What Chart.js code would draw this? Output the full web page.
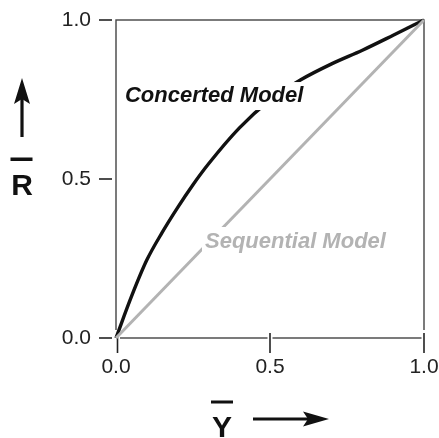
<!DOCTYPE html>
<html>
<head>
<meta charset="utf-8">
<script src="https://cdn.jsdelivr.net/npm/chart.js@4.4.1/dist/chart.umd.min.js"></script>
<style>
  html, body { margin: 0; padding: 0; background: #fff; }
</style>
</head>
<body>
<canvas id="chart" width="439" height="438"></canvas>
<script>
// fractional saturation (Y) vs fraction in R state (R)
const concertedY = [0, 0.05, 0.1, 0.15, 0.2, 0.25, 0.3, 0.4, 0.5, 0.6, 0.7, 0.8, 0.9, 1.0];
const concertedR = [0, 0.13, 0.245, 0.332, 0.41, 0.482, 0.547, 0.66, 0.748, 0.812, 0.862, 0.905, 0.952, 1.0];
const sequentialY = [0, 1.0];
const sequentialR = [0, 1.0];
const tickValues = [0, 0.5, 1.0];
const tickLabels = ['0.0', '0.5', '1.0'];
const seriesNames = ['Concerted Model', 'Sequential Model'];

const FONT = "'Liberation Sans', Arial, Helvetica, sans-serif";
const INK = '#222';
const GREY = '#b3b3b3';

const toPoints = (xs, ys) => xs.map((x, i) => ({ x: x, y: ys[i] }));

// frame, tick marks, labels on the lines, axis titles with arrows
const decorPlugin = {
  id: 'decor',
  beforeDatasetsDraw(chart) {
    const { ctx, chartArea: a, scales } = chart;
    ctx.save();
    ctx.strokeStyle = '#444';
    ctx.lineWidth = 1.4;
    ctx.strokeRect(a.left, a.top, a.right - a.left, a.bottom - a.top);

    ctx.strokeStyle = INK;
    ctx.lineWidth = 1.6;
    // y ticks, outside with a small gap
    tickValues.forEach(v => {
      const py = scales.y.getPixelForValue(v);
      ctx.beginPath();
      ctx.moveTo(a.left - 17, py);
      ctx.lineTo(a.left - 4, py);
      ctx.stroke();
    });
    // x ticks, crossing the axis with a white knockout
    tickValues.forEach(v => {
      const px = scales.x.getPixelForValue(v) + (v === 0 ? 1.5 : 0);
      ctx.strokeStyle = '#fff';
      ctx.lineWidth = 5;
      ctx.beginPath();
      ctx.moveTo(px, a.bottom - 8);
      ctx.lineTo(px, a.bottom + 15);
      ctx.stroke();
      ctx.strokeStyle = INK;
      ctx.lineWidth = 1.6;
      ctx.beginPath();
      ctx.moveTo(px, a.bottom - 5);
      ctx.lineTo(px, a.bottom + 15);
      ctx.stroke();
    });
    ctx.restore();
  },
  afterDatasetsDraw(chart) {
    const { ctx, scales } = chart;
    ctx.save();
    ctx.font = "italic bold 22px " + FONT;
    ctx.textBaseline = 'alphabetic';
    ctx.textAlign = 'left';

    const labelAt = (text, vx, vy, color, padTop, padBottom) => {
      const px = scales.x.getPixelForValue(vx);
      const py = scales.y.getPixelForValue(vy);
      const w = ctx.measureText(text).width;
      ctx.fillStyle = '#fff';
      ctx.fillRect(px - 3, py - padTop, w + 6, padTop + padBottom);
      ctx.fillStyle = color;
      ctx.fillText(text, px, py);
    };
    labelAt(seriesNames[0], 0.029, 0.742, '#111', 20, 8);
    labelAt(seriesNames[1], 0.289, 0.283, GREY, 21, 6);
    ctx.restore();
  },
  afterDraw(chart) {
    const { ctx } = chart;
    ctx.save();
    ctx.fillStyle = '#111';
    ctx.strokeStyle = '#111';

    // R with overbar, arrow pointing up
    ctx.font = "bold 30px " + FONT;
    ctx.textAlign = 'center';
    ctx.textBaseline = 'alphabetic';
    ctx.fillText('R', 22, 195);
    ctx.fillRect(10.5, 157.5, 22, 3.5);

    ctx.lineWidth = 3.2;
    ctx.beginPath();
    ctx.moveTo(22, 137);
    ctx.lineTo(22, 98);
    ctx.stroke();
    ctx.beginPath();
    ctx.moveTo(22, 78);
    ctx.lineTo(30, 104);
    ctx.lineTo(22, 99);
    ctx.lineTo(14, 104);
    ctx.closePath();
    ctx.fill();

    // Y with overbar, arrow pointing right
    ctx.fillText('Y', 222, 437);
    ctx.fillRect(211, 400.5, 22, 3);

    ctx.beginPath();
    ctx.moveTo(253, 419);
    ctx.lineTo(310, 419);
    ctx.stroke();
    ctx.beginPath();
    ctx.moveTo(329, 419);
    ctx.lineTo(303, 411.5);
    ctx.lineTo(308, 419);
    ctx.lineTo(303, 426.5);
    ctx.closePath();
    ctx.fill();
    ctx.restore();
  }
};

new Chart(document.getElementById('chart'), {
  type: 'scatter',
  data: {
    datasets: [
      {
        label: seriesNames[1],
        data: toPoints(sequentialY, sequentialR),
        showLine: true,
        borderColor: GREY,
        borderWidth: 3,
        pointRadius: 0,
        clip: false
      },
      {
        label: seriesNames[0],
        data: toPoints(concertedY, concertedR),
        showLine: true,
        borderColor: '#111',
        borderWidth: 3.4,
        cubicInterpolationMode: 'monotone',
        pointRadius: 0,
        clip: false
      }
    ]
  },
  options: {
    responsive: false,
    animation: false,
    devicePixelRatio: 1,
    layout: { padding: { top: 20, right: 15, left: 0, bottom: 0 } },
    plugins: {
      legend: { display: false },
      tooltip: { enabled: false }
    },
    scales: {
      x: {
        type: 'linear',
        min: 0,
        max: 1,
        grid: { display: false, drawTicks: false },
        border: { display: false },
        afterBuildTicks: s => { s.ticks = tickValues.map(v => ({ value: v })); },
        ticks: {
          padding: 17,
          color: INK,
          maxRotation: 0,
          autoSkip: false,
          font: { family: FONT, size: 21 },
          callback: v => tickLabels[tickValues.indexOf(v)]
        },
        afterFit: s => { s.height = 100; s.paddingLeft = 0; s.paddingRight = 0; }
      },
      y: {
        type: 'linear',
        min: 0,
        max: 1,
        grid: { display: false, drawTicks: false },
        border: { display: false },
        afterBuildTicks: s => { s.ticks = tickValues.map(v => ({ value: v })); },
        ticks: {
          padding: 25,
          color: INK,
          autoSkip: false,
          font: { family: FONT, size: 21 },
          callback: v => tickLabels[tickValues.indexOf(v)]
        },
        afterFit: s => { s.width = 116; s.paddingTop = 0; s.paddingBottom = 0; }
      }
    }
  },
  plugins: [decorPlugin]
});
</script>
</body>
</html>
